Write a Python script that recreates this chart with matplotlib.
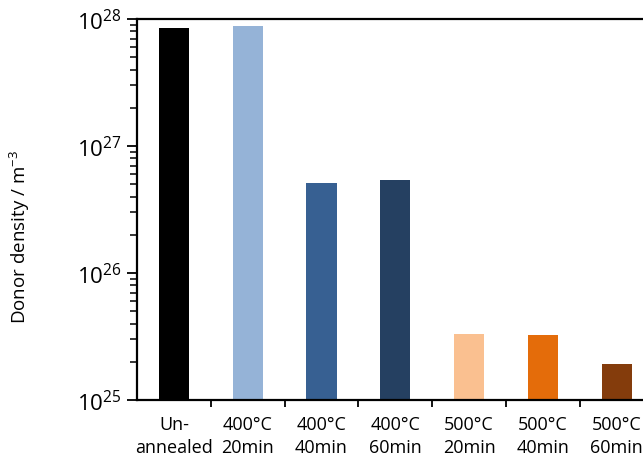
import math
import matplotlib.pyplot as plt
from matplotlib.ticker import FixedLocator, LogLocator, FuncFormatter, NullFormatter

plt.rcParams['font.family'] = ['Open Sans', 'DejaVu Sans']
plt.rcParams['mathtext.default'] = 'regular'

labels = ["Un-\nannealed", "400°C\n20min", "400°C\n40min", "400°C\n60min",
          "500°C\n20min", "500°C\n40min", "500°C\n60min"]
density = [8.5e27, 8.8e27, 5.1e26, 5.4e26, 3.3e25, 3.27e25, 1.92e25]
colors = ["#000000", "#95b3d7", "#376092", "#254061", "#fac090", "#e46c0a", "#843c0c"]

fig = plt.figure(figsize=(6.43, 4.6), dpi=100)
# the axes run a little past the right edge of the figure
ax = fig.add_axes([137/643, 59/460, 7*73.8/643, 381/460])

x = list(range(len(labels)))
ax.bar(x, density, width=0.41, color=colors)
ax.set_yscale('log')
ax.set_ylim(1e25, 1e28)
ax.set_xlim(-0.5, len(labels) - 0.5)

ax.yaxis.set_major_locator(LogLocator(base=10, numticks=10))
ax.yaxis.set_minor_locator(LogLocator(base=10, subs=range(2, 10), numticks=20))
ax.yaxis.set_major_formatter(FuncFormatter(lambda v, p: r'$10^{%d}$' % round(math.log10(v))))
ax.yaxis.set_minor_formatter(NullFormatter())

ax.set_xticks(x)
ax.set_xticklabels(labels, fontsize=13, linespacing=1.35)
ax.xaxis.set_minor_locator(FixedLocator([i + 0.5 for i in x]))
ax.tick_params(axis='x', which='major', length=0, pad=11)
ax.tick_params(axis='x', which='minor', length=5, width=1.3, direction='out')
ax.tick_params(axis='y', which='major', length=7, width=1.3, labelsize=16, pad=4)
ax.tick_params(axis='y', which='minor', length=5, width=1.1)

for side in ['top', 'bottom', 'left', 'right']:
    ax.spines[side].set_linewidth(1.6)

ax.set_ylabel("Donor density / m$^{-3}$", fontsize=13.5)
ax.yaxis.set_label_coords(-0.203, 0.43)

fig.savefig("out.png", dpi=100)
